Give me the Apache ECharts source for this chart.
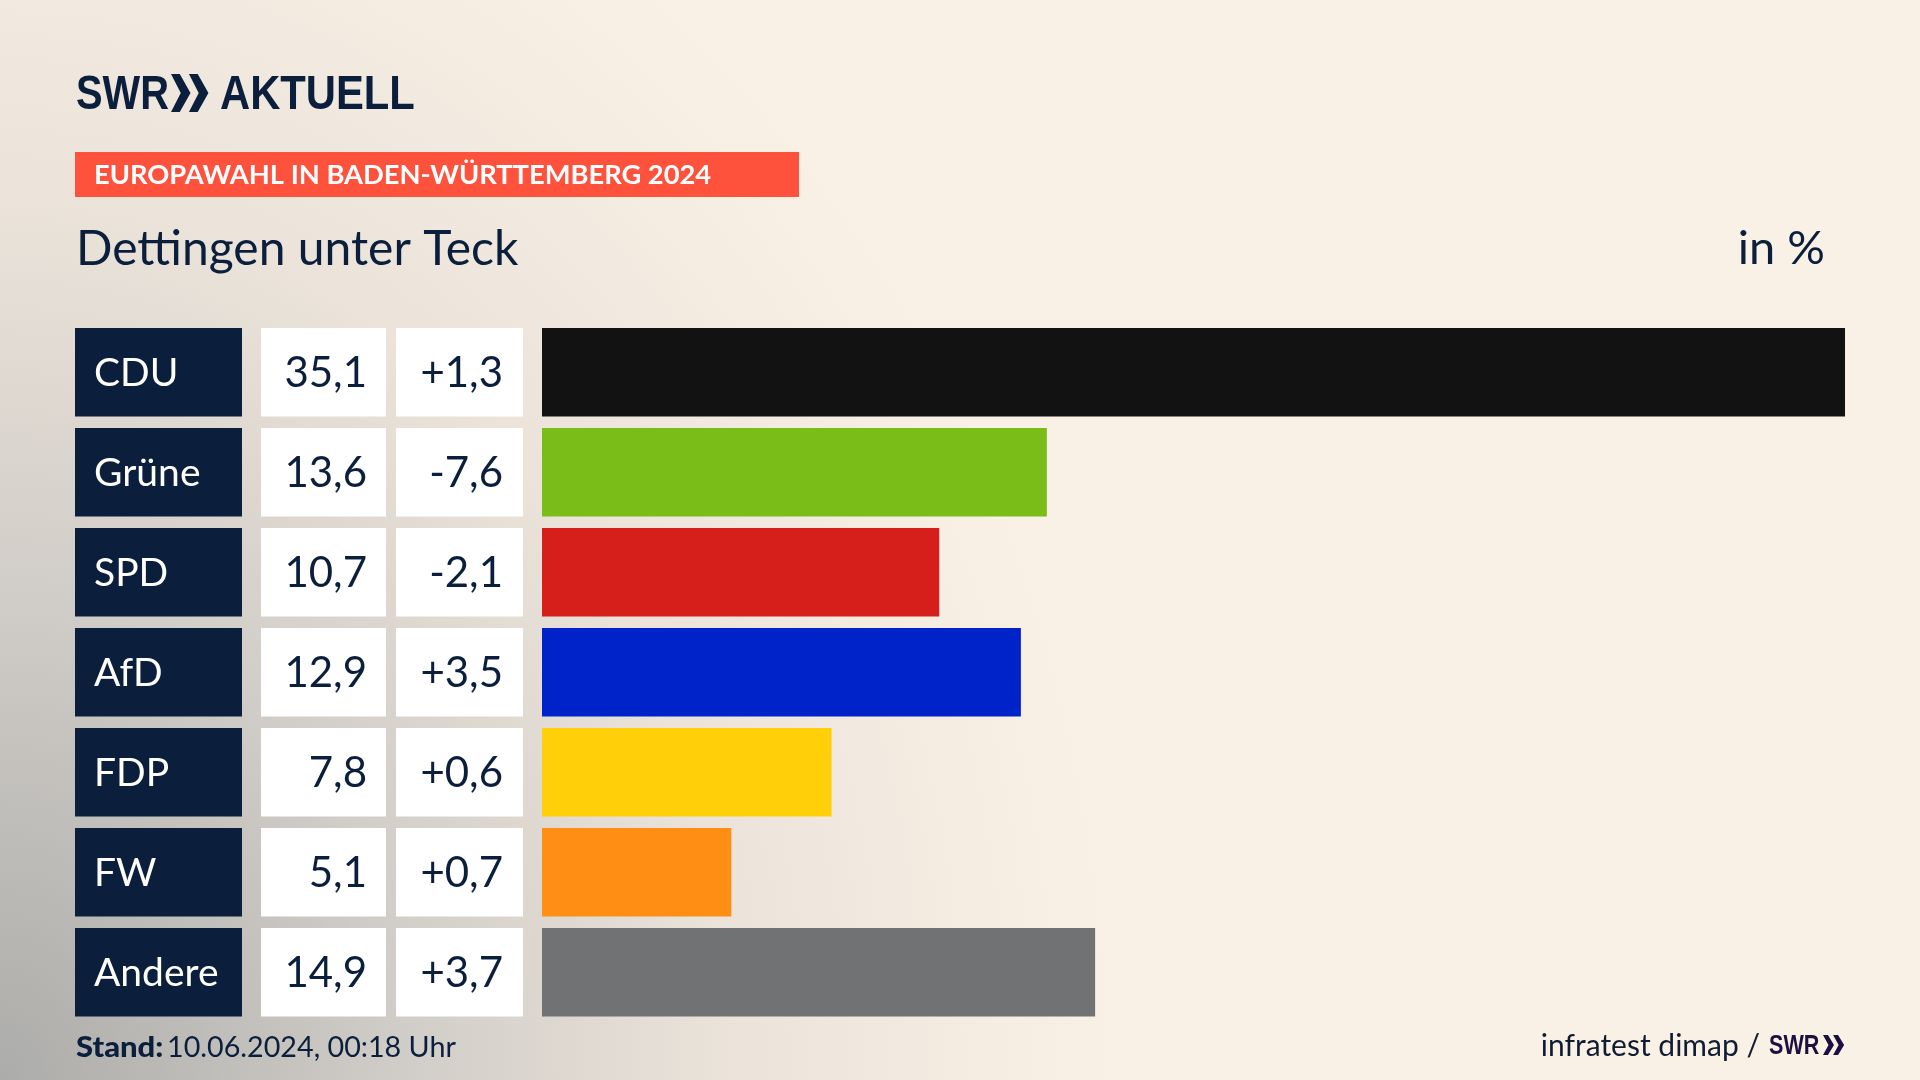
<!DOCTYPE html>
<html lang="de">
<head>
  <meta charset="UTF-8">
  <title>Europawahl Dettingen unter Teck</title>
  <script src="https://cdn.jsdelivr.net/npm/echarts@6/dist/echarts.min.js"></script>
  <style>
    html,body{margin:0;padding:0;width:1920px;height:1080px;overflow:hidden;}
    body{background:
      radial-gradient(ellipse 1120px 1350px at 0px 1080px, rgba(172,172,170,1) 0%, rgba(200,197,193,.85) 35%, rgba(225,218,210,.6) 65%, rgba(250,241,230,0) 100%),
      #FAF1E6;}
    #main{width:1920px;height:1080px;}
  </style>
</head>
<body>
  <div id="main"></div>
  <script>
    var parties = ['CDU','Grüne','SPD','AfD','FDP','FW','Andere'];
    var shares = [35.1,13.6,10.7,12.9,7.8,5.1,14.9];
    var changes = [1.3,-7.6,-2.1,3.5,0.6,0.7,3.7];
    var barColors = ['#121212','#7ABD19','#D61F1B','#0022C9','#FFCF0A','#FF8E15','#707274'];

    var navy = '#0B1F3D';
    var font = 'Lato';
    var logoFont = 'Liberation Sans';

    function comma(v){
      return v.toFixed(1).replace('.',',');
    }
    function signed(v){
      return (v > 0 ? '+' : '') + comma(v);
    }
    // eine Tabellenspalte ist eine Kategorie-Achse, die Zellen sind die Labels
    function column(data,offset,rich){
      return {
        type: 'category',
        inverse: true,
        position: 'left',
        offset: offset,
        data: data,
        axisLine: {show:false},
        axisTick: {show:false},
        splitLine: {show:false},
        axisLabel: {
          interval: 0,
          margin: 0,
          formatter: function(v){ return '{cell|' + v + '}'; },
          rich: {cell: rich}
        }
      };
    }
    function chevrons(x,y,w,h,color){
      var out = [];
      for(var i=0;i<2;i++){
        var l = x + i*w*0.92;
        out.push({
          type: 'polygon',
          shape: {points: [[l,y],[l+w*0.45,y],[l+w,y+h/2],[l+w*0.45,y+h],[l,y+h],[l+w*0.5,y+h/2]]},
          style: {fill: color}
        });
      }
      return out;
    }
    function text(str,x,y,size,weight,color,align,family,scaleX){
      return {
        type: 'text',
        x: x,
        y: y,
        scaleX: scaleX || 1,
        style: {
          text: str,
          fill: color,
          font: weight + ' ' + size + 'px "' + (family || font) + '"',
          textAlign: align || 'left',
          textVerticalAlign: 'bottom'
        }
      };
    }

    var myChart = echarts.init(document.getElementById('main'));
    var option = {
      animation: false,
      backgroundColor: 'transparent',
      grid: {left: 542, right: 75, top: 322.25, height: 700, containLabel: false},
      xAxis: {type: 'value', min: 0, max: 35.1, show: false},
      yAxis: [
        column(parties,300,{width:148,height:85.5,lineHeight:85.5,padding:[3,0,0,19],align:'left',backgroundColor:navy,color:'#fff',fontFamily:font,fontSize:39}),
        column(shares.map(comma),156,{width:106,height:85.5,lineHeight:85.5,padding:[3,19,0,0],align:'right',backgroundColor:'#fff',color:navy,fontFamily:font,fontSize:42}),
        column(changes.map(signed),19,{width:107,height:85.5,lineHeight:85.5,padding:[3,20,0,0],align:'right',backgroundColor:'#fff',color:navy,fontFamily:font,fontSize:42})
      ],
      series: [{
        type: 'bar',
        yAxisIndex: 0,
        barWidth: 88.5,
        colorBy: 'data',
        color: barColors,
        data: shares
      }],
      graphic: [
        {type:'rect',shape:{x:75,y:152,width:724,height:45},style:{fill:'#FF523D'}},
        text('SWR',76,120,48,'bold',navy,'left',logoFont,0.83),
        text('AKTUELL',220,120,48,'bold',navy,'left',logoFont,0.87),
        text('EUROPAWAHL IN BADEN-WÜRTTEMBERG 2024',94,189,27.3,'bold','#fff'),
        text('Dettingen unter Teck',76,274,48,'normal',navy),
        text('in %',1825,272,47,'normal',navy,'right'),
        text('Stand:',76,1062,29,'900',navy,'left',font,1.07),
        text('10.06.2024, 00:18 Uhr',167,1062,28.7,'normal',navy),
        text('infratest dimap /',1760,1061,30,'normal','#101c33','right'),
        text('SWR',1769,1060,28,'bold','#1D1040','left',logoFont,0.77)
      ].concat(chevrons(171,74,19.5,38,navy),chevrons(1823,1035,11,20,'#1D1040'))
    };
    myChart.setOption(option);
  </script>
</body>
</html>
